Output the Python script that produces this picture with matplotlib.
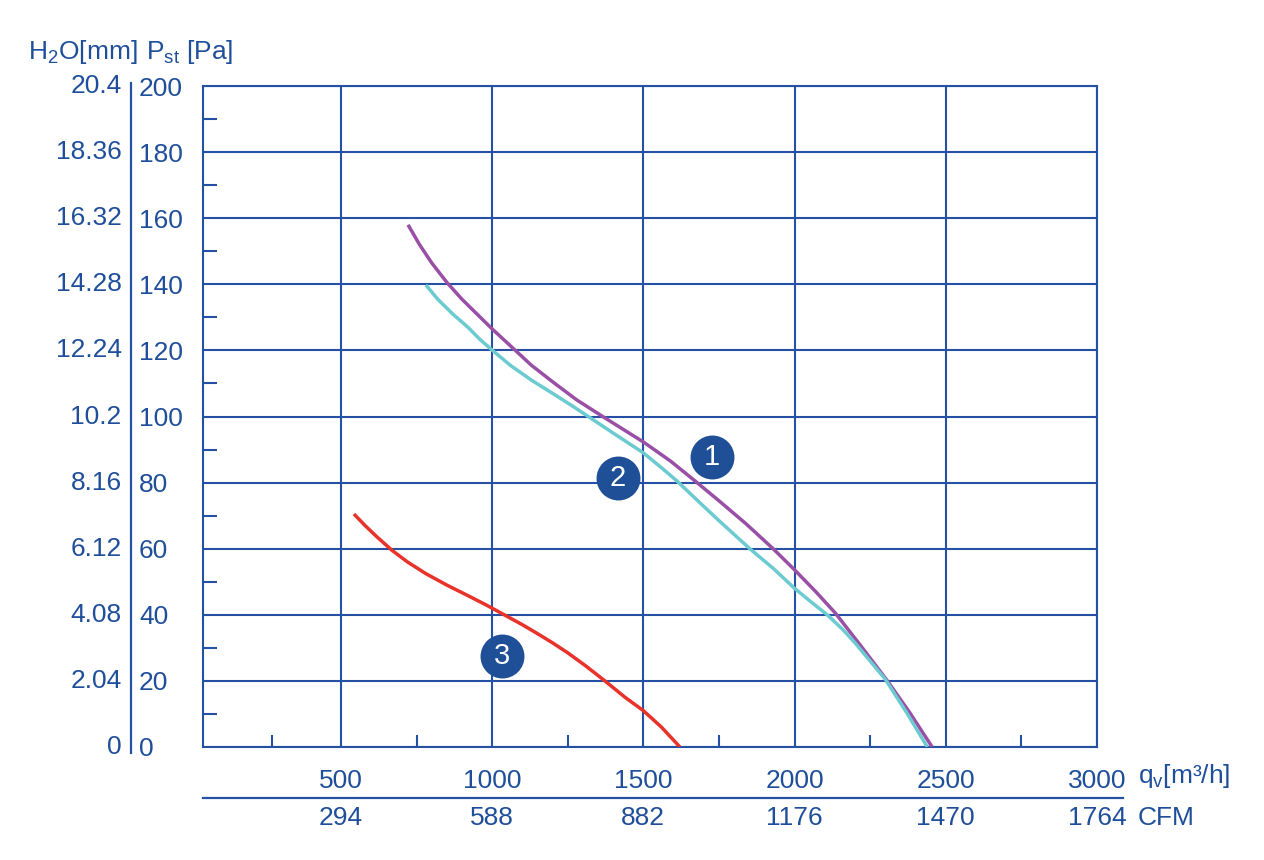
import numpy as np
import matplotlib
matplotlib.use("Agg")
import matplotlib.pyplot as plt

plt.rcParams["font.family"] = ["Liberation Sans", "DejaVu Sans"]
plt.rcParams["mathtext.default"] = "regular"

# curve data (flow m3/h, static pressure Pa)
q1 = [722, 760, 800, 851, 900, 950, 1000, 1065, 1130, 1200, 1280, 1357,
      1430, 1500, 1590, 1671, 1750, 1840, 1929, 2000, 2070, 2135, 2220,
      2307, 2380, 2455]
p1 = [158, 152, 146.5, 140.5, 135.5, 131, 126.5, 121, 115.5, 110.5, 105,
      100.5, 96.3, 92.3, 86.5, 80.5, 74.5, 67.5, 60, 53.6, 47, 40.5, 30.5,
      20, 10.5, 0]

q2 = [781, 820, 870, 920, 960, 1000, 1060, 1130, 1200, 1260, 1313, 1400,
      1500, 1560, 1611, 1680, 1750, 1852, 1930, 2000, 2060, 2108, 2160,
      2200, 2250, 2300, 2370, 2439]
p2 = [139.8, 135.5, 131, 127, 123.3, 120.1, 115.5, 111, 107, 103.5, 100.3,
      95, 89, 84.5, 80.5, 74.5, 68.5, 60, 54, 48, 43.5, 40, 35.5, 31.5, 26,
      20.5, 10.5, 0]

q3 = [543, 580, 620, 669, 720, 780, 850, 920, 980, 1040, 1100, 1150, 1200,
      1250, 1310, 1373, 1440, 1500, 1560, 1621]
p3 = [70.5, 67, 63.5, 59.5, 56, 52.5, 49, 45.8, 43, 40, 37, 34.3, 31.5,
      28.5, 24.5, 20, 15, 11, 6, 0]

pst_ticks = [0, 20, 40, 60, 80, 100, 120, 140, 160, 180, 200]
h2o_labels = ["0", "2.04", "4.08", "6.12", "8.16", "10.2", "12.24", "14.28",
              "16.32", "18.36", "20.4"]
qv_ticks = [500, 1000, 1500, 2000, 2500, 3000]
cfm_labels = ["294", "588", "882", "1176", "1470", "1764"]

label_names = ["1", "2", "3"]
label_x = [1727, 1416, 1032]
label_y = [87.7, 81.4, 27.5]

BLUE = "#2451a3"
TEXT = "#1f4f9a"
PURPLE = "#9a4fa6"
CYAN = "#6ccbd0"
RED = "#e8322a"
BADGE = "#1f4f96"
FS = 19

fig = plt.figure(figsize=(12.64, 8.6), dpi=100)
ax = fig.add_axes([203 / 1264, 1 - 747 / 860, 894 / 1264, 661 / 860])

ax.set_xlim(44, 3000)
ax.set_ylim(0, 200)

ax.set_xticks(qv_ticks)
ax.set_xticklabels([str(v) for v in qv_ticks])
ax.set_xticks([272, 750, 1250, 1750, 2250, 2750], minor=True)
ax.set_yticks(pst_ticks)
ax.set_yticklabels([str(v) for v in pst_ticks])
ax.set_yticks(np.arange(10, 200, 20), minor=True)

ax.tick_params(axis="both", which="major", length=0, labelsize=FS,
               labelcolor=TEXT)
ax.tick_params(axis="x", which="major", pad=16)
ax.tick_params(axis="y", which="major", pad=46)
for lbl in ax.get_yticklabels():
    lbl.set_horizontalalignment("left")
ax.tick_params(axis="both", which="minor", direction="in", color=BLUE,
               width=1.5)
ax.tick_params(axis="y", which="minor", length=10)
ax.tick_params(axis="x", which="minor", length=9)

ax.grid(True, which="major", color=BLUE, lw=1.5)
for sp in ax.spines.values():
    sp.set_color(BLUE)
    sp.set_linewidth(1.5)

ax.plot(q1, p1, color=PURPLE, lw=2.5, solid_capstyle="butt",
        solid_joinstyle="round", zorder=3)
ax.plot(q2, p2, color=CYAN, lw=2.5, solid_capstyle="butt",
        solid_joinstyle="round", zorder=3)
ax.plot(q3, p3, color=RED, lw=2.5, solid_capstyle="butt",
        solid_joinstyle="round", zorder=3)

ax.scatter(label_x, label_y, s=1000, color=BADGE, zorder=4, linewidths=0)
for name, x, y in zip(label_names, label_x, label_y):
    ax.text(x, y, name, color="white", fontsize=21, ha="center",
            va="center", zorder=5)

# H2O column and separator line
ytr = ax.get_yaxis_transform()
for lab, v in zip(h2o_labels, pst_ticks):
    ax.text(-0.091, v, lab, transform=ytr, ha="right", va="center",
            fontsize=FS, color=TEXT)
ax.plot([-0.0805, -0.0805], [-0.009, 1.004], transform=ax.transAxes,
        color=BLUE, lw=1.6, clip_on=False)

# CFM row
xtr = ax.get_xaxis_transform()
for lab, v in zip(cfm_labels, qv_ticks):
    ax.text(v, -0.107, lab, transform=xtr, ha="center", va="center",
            fontsize=FS, color=TEXT)
ax.plot([0, 1.029], [-0.0772, -0.0772], transform=ax.transAxes,
        color=BLUE, lw=1.6, clip_on=False)
ax.text(1.046, -0.044, r"q$_{v}$[m³/h]", transform=ax.transAxes, ha="left",
        va="center", fontsize=FS, color=TEXT)
ax.text(1.046, -0.107, "CFM", transform=ax.transAxes, ha="left",
        va="center", fontsize=FS, color=TEXT)

fig.text(28 / 1264, 1 - 52 / 860, r"H$_{2}$O[mm]", ha="left", va="center",
         fontsize=FS, color=TEXT)
fig.text(146 / 1264, 1 - 52 / 860, r"P$_{st}$ [Pa]", ha="left", va="center",
         fontsize=FS, color=TEXT)

fig.savefig("out.png", dpi=100, facecolor="white")
